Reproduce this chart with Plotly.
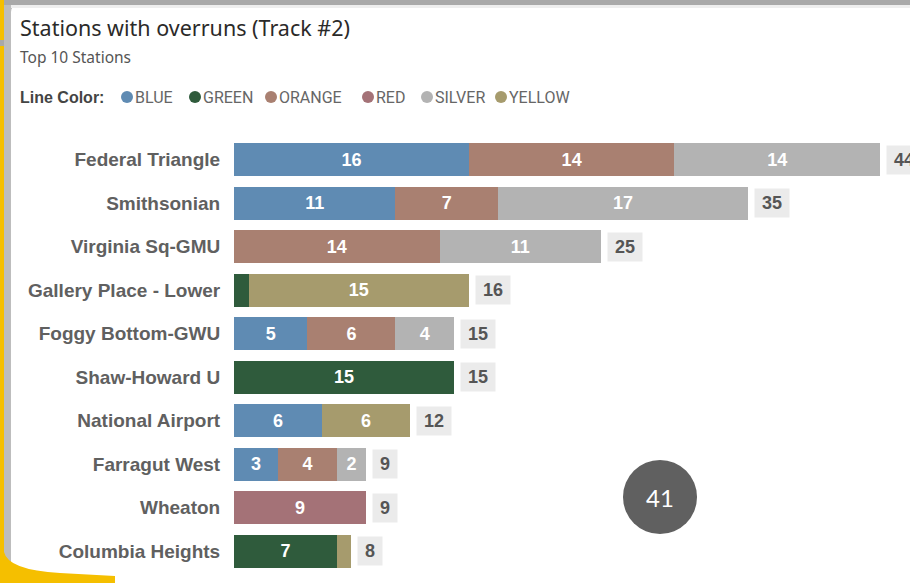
import plotly.graph_objects as go

# Stations, top to bottom
stations = [
    "Federal Triangle", "Smithsonian", "Virginia Sq-GMU", "Gallery Place - Lower",
    "Foggy Bottom-GWU", "Shaw-Howard U", "National Airport", "Farragut West",
    "Wheaton", "Columbia Heights",
]

# Overrun counts per line colour
blue   = [16, 11, 0, 0, 5, 0, 6, 3, 0, 0]
green  = [0, 0, 0, 1, 0, 15, 0, 0, 0, 7]
orange = [14, 7, 14, 0, 6, 0, 0, 4, 0, 0]
red    = [0, 0, 0, 0, 0, 0, 0, 0, 9, 0]
silver = [14, 17, 11, 0, 4, 0, 0, 2, 0, 0]
yellow = [0, 0, 0, 15, 0, 0, 6, 0, 0, 1]

line_names = ["BLUE", "GREEN", "ORANGE", "RED", "SILVER", "YELLOW"]
line_values = [blue, green, orange, red, silver, yellow]
line_colors = ["#5f8bb3", "#2f5b3c", "#a98071", "#a47277", "#b3b3b3", "#a69b6d"]

total_count = 41

W, H = 910, 583


def px(x):
    return x / W


def py(y):
    return 1 - y / H


totals = [sum(v[i] for v in line_values) for i in range(len(stations))]

fig = go.Figure()

for name, vals, col in zip(line_names, line_values, line_colors):
    fig.add_trace(go.Bar(
        y=stations,
        x=vals,
        orientation="h",
        name=name,
        marker=dict(color=col, line=dict(width=0)),
        text=[str(v) if v >= 2 else "" for v in vals],
        textposition="inside",
        insidetextanchor="middle",
        textangle=0,
        textfont=dict(family="Liberation Sans, Arial", size=18, color="white", weight="bold"),
        cliponaxis=False,
        showlegend=False,
        hoverinfo="skip",
    ))

# Total badges to the right of each bar
annotations = []
for st, tot in zip(stations, totals):
    annotations.append(dict(
        x=tot, y=st, xref="x", yref="y",
        text=str(tot), showarrow=False,
        xanchor="left", xshift=6,
        width=14 + 10 * len(str(tot)), height=28,
        bgcolor="#ebebeb", borderpad=0,
        font=dict(family="Liberation Sans, Arial", size=18, color="#555555", weight="bold"),
    ))

# Title block
annotations.append(dict(
    x=px(18), y=py(27), xref="paper", yref="paper", xanchor="left", yanchor="middle",
    text="Stations with overruns (Track #2)", showarrow=False,
    font=dict(family="Noto Sans", size=21.5, color="#2b2a29"),
))
annotations.append(dict(
    x=px(18), y=py(57), xref="paper", yref="paper", xanchor="left", yanchor="middle",
    text="Top 10 Stations", showarrow=False,
    font=dict(family="Noto Sans", size=15.5, color="#555555"),
))

# Colour key: label, then a dot and a name per line
annotations.append(dict(
    x=px(18), y=py(97), xref="paper", yref="paper", xanchor="left", yanchor="middle",
    text="<b>Line Color:</b>", showarrow=False,
    font=dict(family="Liberation Sans, Arial", size=16, color="#444444"),
))
key_x = [121, 189, 265, 362, 421, 495]
shapes_key = []
for kx, name, col in zip(key_x, line_names, line_colors):
    shapes_key.append(dict(
        type="circle", xref="paper", yref="paper",
        x0=px(kx), x1=px(kx + 12), y0=py(103), y1=py(91),
        fillcolor=col, line=dict(width=0),
    ))
    annotations.append(dict(
        x=px(kx + 12), y=py(97), xref="paper", yref="paper", xanchor="left", yanchor="middle",
        text=name, showarrow=False,
        font=dict(family="Liberation Sans Narrow, Roboto, Liberation Sans", size=16, color="#666666"),
    ))

# Count badge
annotations.append(dict(
    x=px(660), y=py(497), xref="paper", yref="paper", xanchor="center", yanchor="middle",
    text=str(total_count), showarrow=False,
    font=dict(family="Lato", size=24, color="white"),
))

shapes = [
    # outer frame
    dict(type="rect", xref="paper", yref="paper", x0=0, x1=1, y0=0, y1=1,
         fillcolor="#a9a9a9", line=dict(width=0), layer="below"),
    dict(type="rect", xref="paper", yref="paper", x0=px(0), x1=px(4), y0=py(40), y1=py(0),
         fillcolor="#f5bf00", line=dict(width=0), layer="below"),
    dict(type="rect", xref="paper", yref="paper", x0=px(0), x1=px(4), y0=py(575), y1=py(46),
         fillcolor="#f5bf00", line=dict(width=0), layer="below"),
    dict(type="rect", xref="paper", yref="paper", x0=px(4), x1=px(11), y0=py(570), y1=py(5),
         fillcolor="#bdbdbd", line=dict(width=0), layer="below"),
    # white card with rounded top-left corner
    dict(type="path", xref="paper", yref="paper",
         path=(f"M {px(11)},{py(12)} Q {px(11)},{py(5)} {px(18)},{py(5)} "
               f"L {px(910)},{py(5)} L {px(910)},{py(583)} L {px(11)},{py(583)} Z"),
         fillcolor="white", line=dict(width=0), layer="below"),
    dict(type="rect", xref="paper", yref="paper", x0=px(11), x1=px(910), y0=py(8), y1=py(5),
         fillcolor="#eeeeee", line=dict(width=0), layer="below"),
    # curved yellow accent at the bottom left
    dict(type="path", xref="paper", yref="paper",
         path=(f"M {px(0)},{py(552)} L {px(4)},{py(552)} "
               f"Q {px(8)},{py(570)} {px(60)},{py(573)} L {px(115)},{py(576)} "
               f"L {px(115)},{py(583)} L {px(0)},{py(583)} Z"),
         fillcolor="#f5bf00", line=dict(width=0), layer="below"),
    # count circle
    dict(type="circle", xref="paper", yref="paper",
         x0=px(623), x1=px(697), y0=py(534), y1=py(460),
         fillcolor="#606060", line=dict(width=0), layer="above"),
] + shapes_key

fig.update_layout(
    width=W, height=H,
    margin=dict(l=0, r=0, t=0, b=0),
    paper_bgcolor="white",
    plot_bgcolor="rgba(0,0,0,0)",
    barmode="stack",
    bargap=0.24,
    showlegend=False,
    xaxis=dict(domain=[px(234), 1], range=[0, 46.05], visible=False, fixedrange=True),
    yaxis=dict(
        domain=[py(573), py(138)],
        autorange="reversed",
        showgrid=False, zeroline=False, showline=False,
        ticks="outside", ticklen=9, tickcolor="rgba(0,0,0,0)",
        tickfont=dict(family="Liberation Sans, Arial", size=19, color="#606060", weight="bold"),
        automargin=False,
    ),
    annotations=annotations,
    shapes=shapes,
    uniformtext=dict(minsize=12, mode="show"),
)

fig.write_html("out.html")
